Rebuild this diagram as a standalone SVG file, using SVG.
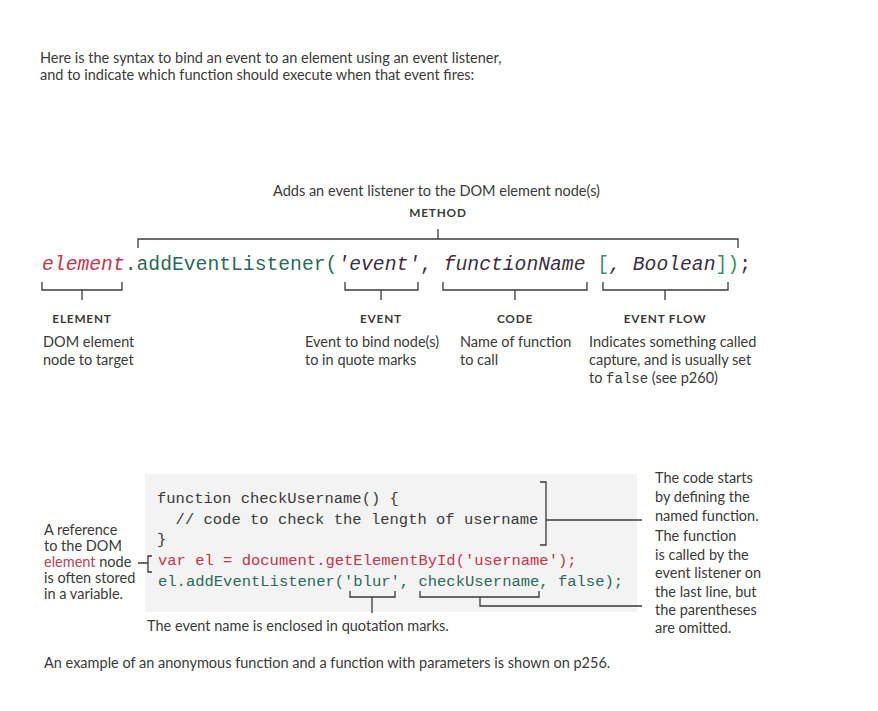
<svg xmlns="http://www.w3.org/2000/svg" width="878" height="711" viewBox="0 0 878 711">
<style>
.t{font-family:Lato,"Liberation Sans",sans-serif;fill:#3a3a3a;font-size:14.5px}
.h{font-family:Lato,"Liberation Sans",sans-serif;font-weight:bold;fill:#3a3a3a;font-size:11.8px;letter-spacing:0.8px;text-anchor:middle}
.m{font-family:"Liberation Mono","DejaVu Sans Mono",monospace}
.ln{stroke:#3a3a3a;stroke-width:1.3;fill:none}
.red{fill:#c5354c}
.teal{fill:#2b6a5a}
.grn{fill:#3b8f6a}
.dk{fill:#3b2f3f}
</style>
<rect width="878" height="711" fill="#ffffff"/>
<g id="intro">
<text class="t" x="40" y="63" font-size="14">Here is the syntax to bind an event to an element using an event listener,</text>
<text class="t" x="40" y="80" font-size="14">and to indicate which function should execute when that event fires:</text>
</g>
<g id="method">
<text class="t" x="273" y="196" font-size="15.7">Adds an event listener to the DOM element node(s)</text>
<text class="h" x="438" y="217">METHOD</text>
</g>
<g id="syntax">
<text class="m" x="42" y="270" font-size="19.7" xml:space="preserve"><tspan class="red" font-style="italic">element</tspan><tspan class="teal">.addEventListener(</tspan><tspan class="dk" font-style="italic">'event'</tspan><tspan class="dk">, </tspan><tspan class="dk" font-style="italic">functionName</tspan><tspan class="dk"> </tspan><tspan class="grn">[</tspan><tspan class="dk" font-style="italic">, Boolean</tspan><tspan class="grn">])</tspan><tspan class="dk">;</tspan></text>
</g>
<g id="element">
<text class="h" x="82" y="323">ELEMENT</text>
<text class="t" x="43" y="347">DOM element</text>
<text class="t" x="43" y="365">node to target</text>
</g>
<g id="event">
<text class="h" x="381" y="323">EVENT</text>
<text class="t" x="305" y="347">Event to bind node(s)</text>
<text class="t" x="305" y="365">to in quote marks</text>
</g>
<g id="code">
<text class="h" x="515" y="323">CODE</text>
<text class="t" x="460" y="347">Name of function</text>
<text class="t" x="460" y="365">to call</text>
</g>
<g id="eventflow">
<text class="h" x="665" y="323">EVENT FLOW</text>
<text class="t" x="589" y="347">Indicates something called</text>
<text class="t" x="589" y="365">capture, and is usually set</text>
<text class="t" x="589" y="383" xml:space="preserve">to <tspan class="m" font-size="14">false</tspan> (see p260)</text>
</g>
<g id="codeblock">
<rect x="145" y="474" width="492" height="138" fill="#f3f3f3"/>
<text class="m" font-size="15.5" fill="#3a3a3a"><tspan x="157" y="503">function checkUsername() {</tspan><tspan x="175.6" y="524">// code to check the length of username</tspan><tspan x="157" y="544">}</tspan></text>
<text class="m red" x="158" y="565" font-size="15.5">var el = document.getElementById('username');</text>
<text class="m teal" x="158" y="586" font-size="15.5">el.addEventListener('blur', checkUsername, false);</text>
</g>
<g id="reference-note">
<text class="t" x="44" y="535" font-size="14">A reference</text>
<text class="t" x="44" y="551" font-size="14">to the DOM</text>
<text class="t" x="44" y="567" font-size="14"><tspan fill="#b5475a">element</tspan> node</text>
<text class="t" x="44" y="583" font-size="14">is often stored</text>
<text class="t" x="44" y="599" font-size="14">in a variable.</text>
</g>
<g id="function-note">
<text class="t" x="655" y="483" font-size="13.2">The code starts</text>
<text class="t" x="655" y="502" font-size="13.2">by defining the</text>
<text class="t" x="655" y="521" font-size="13.2">named function.</text>
<text class="t" x="655" y="541" font-size="13.2">The function</text>
<text class="t" x="655" y="560" font-size="13.2">is called by the</text>
<text class="t" x="655" y="578" font-size="13.2">event listener on</text>
<text class="t" x="655" y="597" font-size="13.2">the last line, but</text>
<text class="t" x="655" y="615" font-size="13.2">the parentheses</text>
<text class="t" x="655" y="633" font-size="13.2">are omitted.</text>
</g>
<g id="blur-note">
<text class="t" x="147" y="631" font-size="14">The event name is enclosed in quotation marks.</text>
</g>
<g id="footer">
<text class="t" x="44" y="668">An example of an anonymous function and a function with parameters is shown on p256.</text>
</g>
<g id="connectors" class="ln">
<path d="M138 248V239H738V248M438 229V239"/>
<path d="M42 282V290H122V282M82 290V300"/>
<path d="M345 282V290H418V282M381 290V300"/>
<path d="M443 282V290H587V282M515 290V300"/>
<path d="M603 282V290H728V282M665 290V300"/>
<path d="M540 482H546V545H540M546 520H642"/>
<path d="M138 563H148M152 556H148V572H152"/>
<path d="M350 591V597H395V591M372 597V613"/>
<path d="M420 591V597H539V591M480 597V606H642"/>
</g>
</svg>
